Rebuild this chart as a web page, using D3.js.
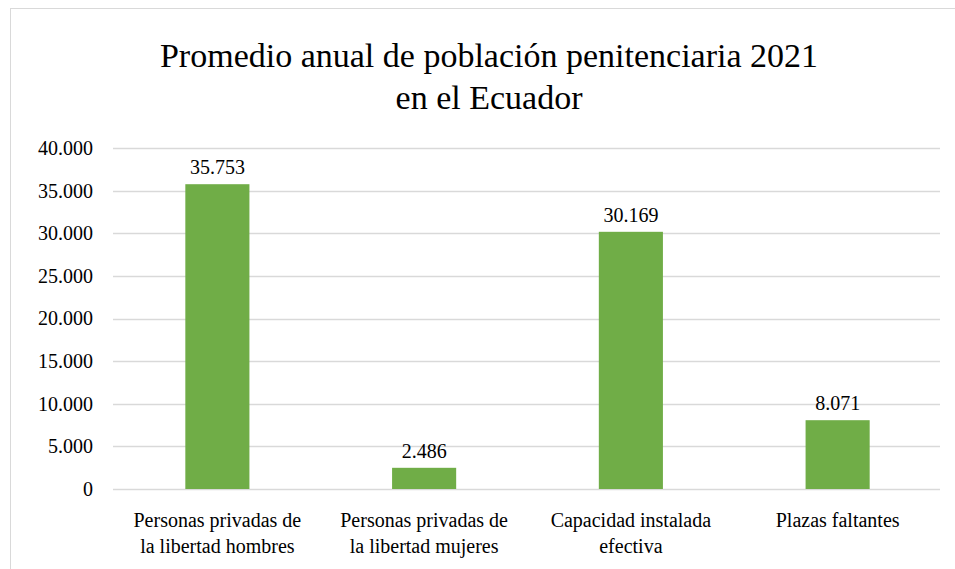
<!DOCTYPE html>
<html lang="es">
<head>
<meta charset="utf-8">
<title>Promedio anual de población penitenciaria 2021</title>
<script src="https://d3js.org/d3.v7.js"></script>
<style>
  body { margin: 0; background: #fff; }
</style>
</head>
<body>
<svg></svg>
<script>
  const categories = [
    ["Personas privadas de", "la libertad hombres"],
    ["Personas privadas de", "la libertad mujeres"],
    ["Capacidad instalada", "efectiva"],
    ["Plazas faltantes"]
  ];
  const values = [35753, 2486, 30169, 8071];
  const tickValues = [0, 5000, 10000, 15000, 20000, 25000, 30000, 35000, 40000];
  const titleLines = ["Promedio anual de población penitenciaria 2021", "en el Ecuador"];

  const serif = "Liberation Serif, Times New Roman, Times, Nimbus Roman, Noto Serif, FreeSerif, DejaVu Serif, serif";
  const w = 955, h = 569;
  const margin = {top: 148, right: 15, bottom: 80, left: 113};

  const svg = d3.select("svg").attr("width", w).attr("height", h)
    .style("font-family", serif);

  // chart frame (runs off the right and bottom edges)
  svg.append("rect")
    .attr("x", 10.5).attr("y", 8.5)
    .attr("width", 970).attr("height", 590)
    .attr("fill", "none").attr("stroke", "#d9d9d9");

  const fmt = d3.formatLocale({decimal: ",", thousands: ".", grouping: [3], currency: ["", ""]}).format(",");

  const x = d3.scaleBand()
    .domain(d3.range(values.length))
    .range([margin.left, w - margin.right]);

  const y = d3.scaleLinear()
    .domain([0, 40000])
    .range([h - margin.bottom, margin.top]);

  // gridlines
  svg.append("g")
    .selectAll("line")
    .data(tickValues)
    .join("line")
    .attr("x1", margin.left).attr("x2", w - margin.right)
    .attr("y1", d => Math.round(y(d)) + 0.5).attr("y2", d => Math.round(y(d)) + 0.5)
    .attr("stroke", "#d9d9d9").attr("stroke-width", 1.3);

  // y axis labels
  const yAxis = d3.axisLeft(y).tickValues(tickValues).tickFormat(fmt).tickSize(0).tickPadding(0);
  svg.append("g")
    .attr("transform", `translate(93,0)`)
    .call(yAxis)
    .attr("font-family", null)
    .attr("font-size", null)
    .call(g => g.select(".domain").remove())
    .call(g => g.selectAll("text").attr("fill", "#000").style("font-size", "20px"));

  // bars
  const barW = x.bandwidth() * 0.31;
  svg.append("g")
    .selectAll("rect")
    .data(values)
    .join("rect")
    .attr("x", (d, i) => x(i) + (x.bandwidth() - barW) / 2 + 1)
    .attr("width", barW)
    .attr("y", d => y(d))
    .attr("height", d => y(0) - y(d))
    .attr("fill", "#70ad47");

  // data labels
  svg.append("g")
    .selectAll("text")
    .data(values)
    .join("text")
    .attr("x", (d, i) => x(i) + x.bandwidth() / 2 + 1)
    .attr("y", d => y(d) - 17)
    .attr("text-anchor", "middle")
    .attr("dominant-baseline", "central")
    .style("font-size", "20px")
    .text(d => fmt(d));

  // category labels
  const cat = svg.append("g")
    .selectAll("text")
    .data(categories)
    .join("text")
    .attr("text-anchor", "middle")
    .style("font-size", "20px");
  cat.selectAll("tspan")
    .data((d, i) => d.map(s => ({s, i})))
    .join("tspan")
    .attr("x", d => x(d.i) + x.bandwidth() / 2 + 1)
    .attr("y", (d, j) => 520 + j * 26)
    .attr("dominant-baseline", "central")
    .text(d => d.s);

  // title
  svg.append("g")
    .selectAll("text")
    .data(titleLines)
    .join("text")
    .attr("x", 489)
    .attr("y", (d, i) => 55 + i * 42)
    .attr("text-anchor", "middle")
    .attr("dominant-baseline", "central")
    .style("font-size", "34px")
    .text(d => d);
</script>
</body>
</html>
